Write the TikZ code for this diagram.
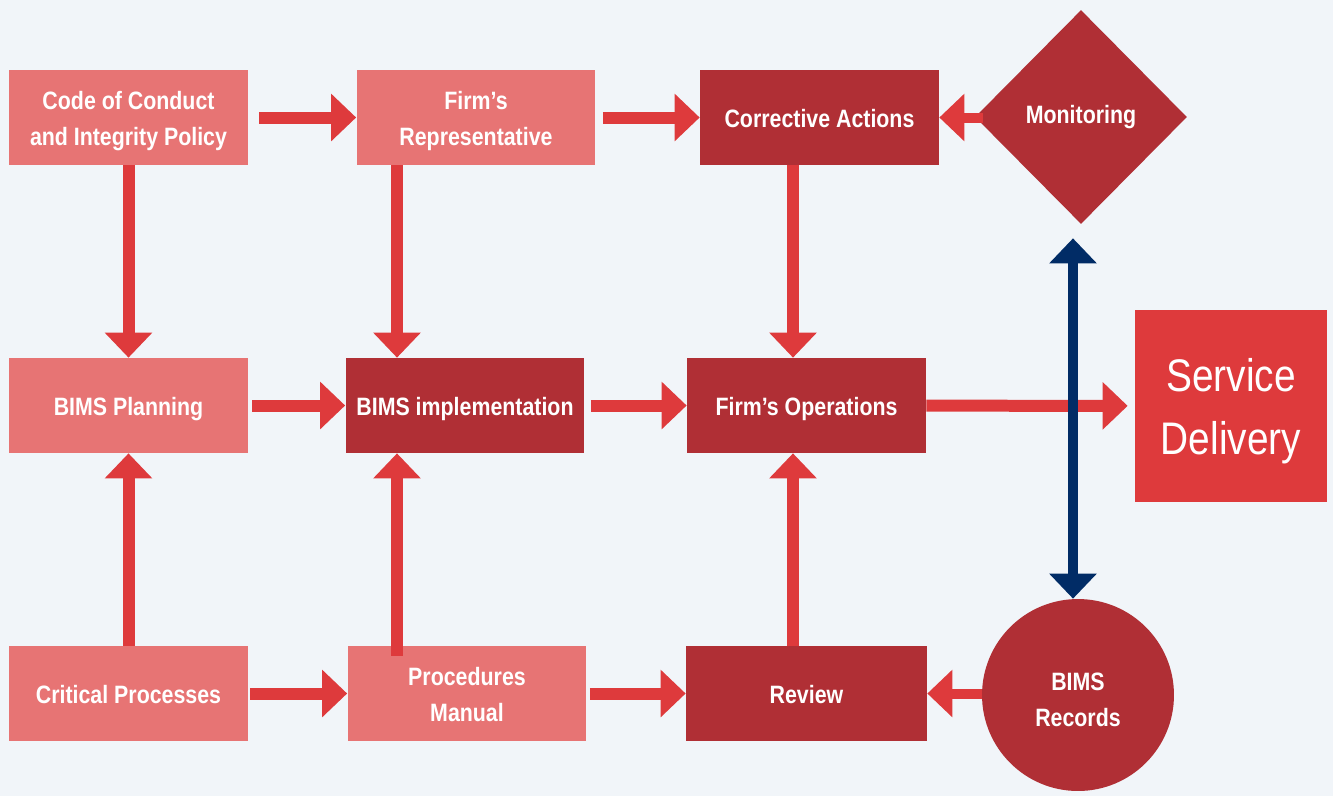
\documentclass[tikz,border=0pt]{standalone}
\usepackage{fontspec}
\setmainfont{Liberation Sans}[FakeStretch=0.85]
\usetikzlibrary{arrows.meta,shapes.geometric}
\definecolor{bgpale}{HTML}{F1F5F9}
\definecolor{boxlight}{HTML}{E77474}
\definecolor{boxdark}{HTML}{B02F35}
\definecolor{flowred}{HTML}{DE3A3C}
\definecolor{navyline}{HTML}{012C66}

\begin{document}
\begin{tikzpicture}[x=0.02cm,y=-0.02cm,
  box/.style={rectangle,minimum width=4.78cm,minimum height=1.9cm,inner sep=0pt,
    text=white,align=center,font=\bfseries\fontsize{14.3}{21}\selectfont,
    text height=14.5pt,text depth=3.5pt},
  twoline/.style={text height=35.4pt,text depth=3pt},
  light/.style={box,fill=boxlight},
  dark/.style={box,fill=boxdark},
  bigtip/.tip={Triangle[length=0.5cm,width=0.92cm]},
  flow/.style={draw=flowred,line width=0.24cm,-bigtip},
  thinflow/.style={flow,line width=0.2cm},
  link/.style={draw=navyline,line width=0.2cm,bigtip-bigtip}]
  % page
  \fill[bgpale] (0,0) rectangle (1333,796);
  % top row
  \node[light,twoline] (code) at (128.5,117.5) {Code of Conduct\\and Integrity Policy};
  \node[light,twoline] (rep)  at (476,117.5)   {Firm’s\\Representative};
  \node[dark]  (corr) at (819.5,117.5) {Corrective Actions};
  \node[diamond,fill=boxdark,inner sep=0pt,minimum width=4.24cm,minimum height=4.28cm,
    text=white,font=\bfseries\fontsize{14.3}{21}\selectfont] (mon) at (1081,117) {Monitoring};
  % middle row
  \node[light] (plan) at (128.5,405.5) {BIMS Planning};
  \node[dark]  (impl) at (465,405.5)   {BIMS implementation};
  \node[dark]  (ops)  at (806.5,405.5) {Firm’s Operations};
  \node[rectangle,fill=flowred,minimum size=3.84cm,inner sep=0pt,text=white,align=center,
    font=\fontsize{26}{35.9}\selectfont,text height=61.1pt,text depth=5.5pt] (deliv) at (1231,406) {Service\\Delivery};
  % bottom row
  \node[light] (crit)   at (128.5,693.5) {Critical Processes};
  \node[light,twoline] (proc) at (467,693.5) {Procedures\\Manual};
  \node[dark,minimum width=4.82cm] (review) at (806.5,693.5) {Review};
  \node[circle,fill=boxdark,minimum size=3.84cm,inner sep=0pt,text=white,align=center,
    font=\bfseries\fontsize{14.3}{20.8}\selectfont,text height=36pt,text depth=0pt] (rec) at (1078,695) {BIMS\\Records};
  % horizontal flows
  \draw[flow,shorten <=0.22cm] (code) -- (rep);
  \draw[flow,shorten <=0.14cm] (rep) -- (corr);
  \draw[thinflow,shorten <=-0.16cm] (mon.west |- corr) -- (corr);
  \draw[flow,shorten <=0.08cm] (plan) -- (impl);
  \draw[flow,shorten <=0.12cm] (impl) -- (ops);
  \draw[flow,shorten >=0.14cm] (ops) -- (deliv);
  \draw[flow,shorten <=0.04cm] (crit) -- (proc);
  \draw[flow,shorten <=0.06cm] (proc) -- (review);
  \draw[thinflow] (rec.west |- review) -- (review);
  % vertical flows
  \draw[flow] (code) -- (plan);
  \draw[flow] (rep.south -| 397,0) -- (impl.north -| 397,0);
  \draw[flow] (corr.south -| 793,0) -- (ops.north -| 793,0);
  \draw[flow] (crit) -- (plan);
  \draw[flow,shorten <=-0.2cm] (proc.north -| 397,0) -- (impl.south -| 397,0);
  \draw[flow] (review.north -| 793,0) -- (ops.south -| 793,0);
  % records <-> monitoring
  \draw[link,shorten <=0.28cm] (mon.south -| 1073,0) -- (rec.north -| 1073,0);
\end{tikzpicture}
\end{document}
